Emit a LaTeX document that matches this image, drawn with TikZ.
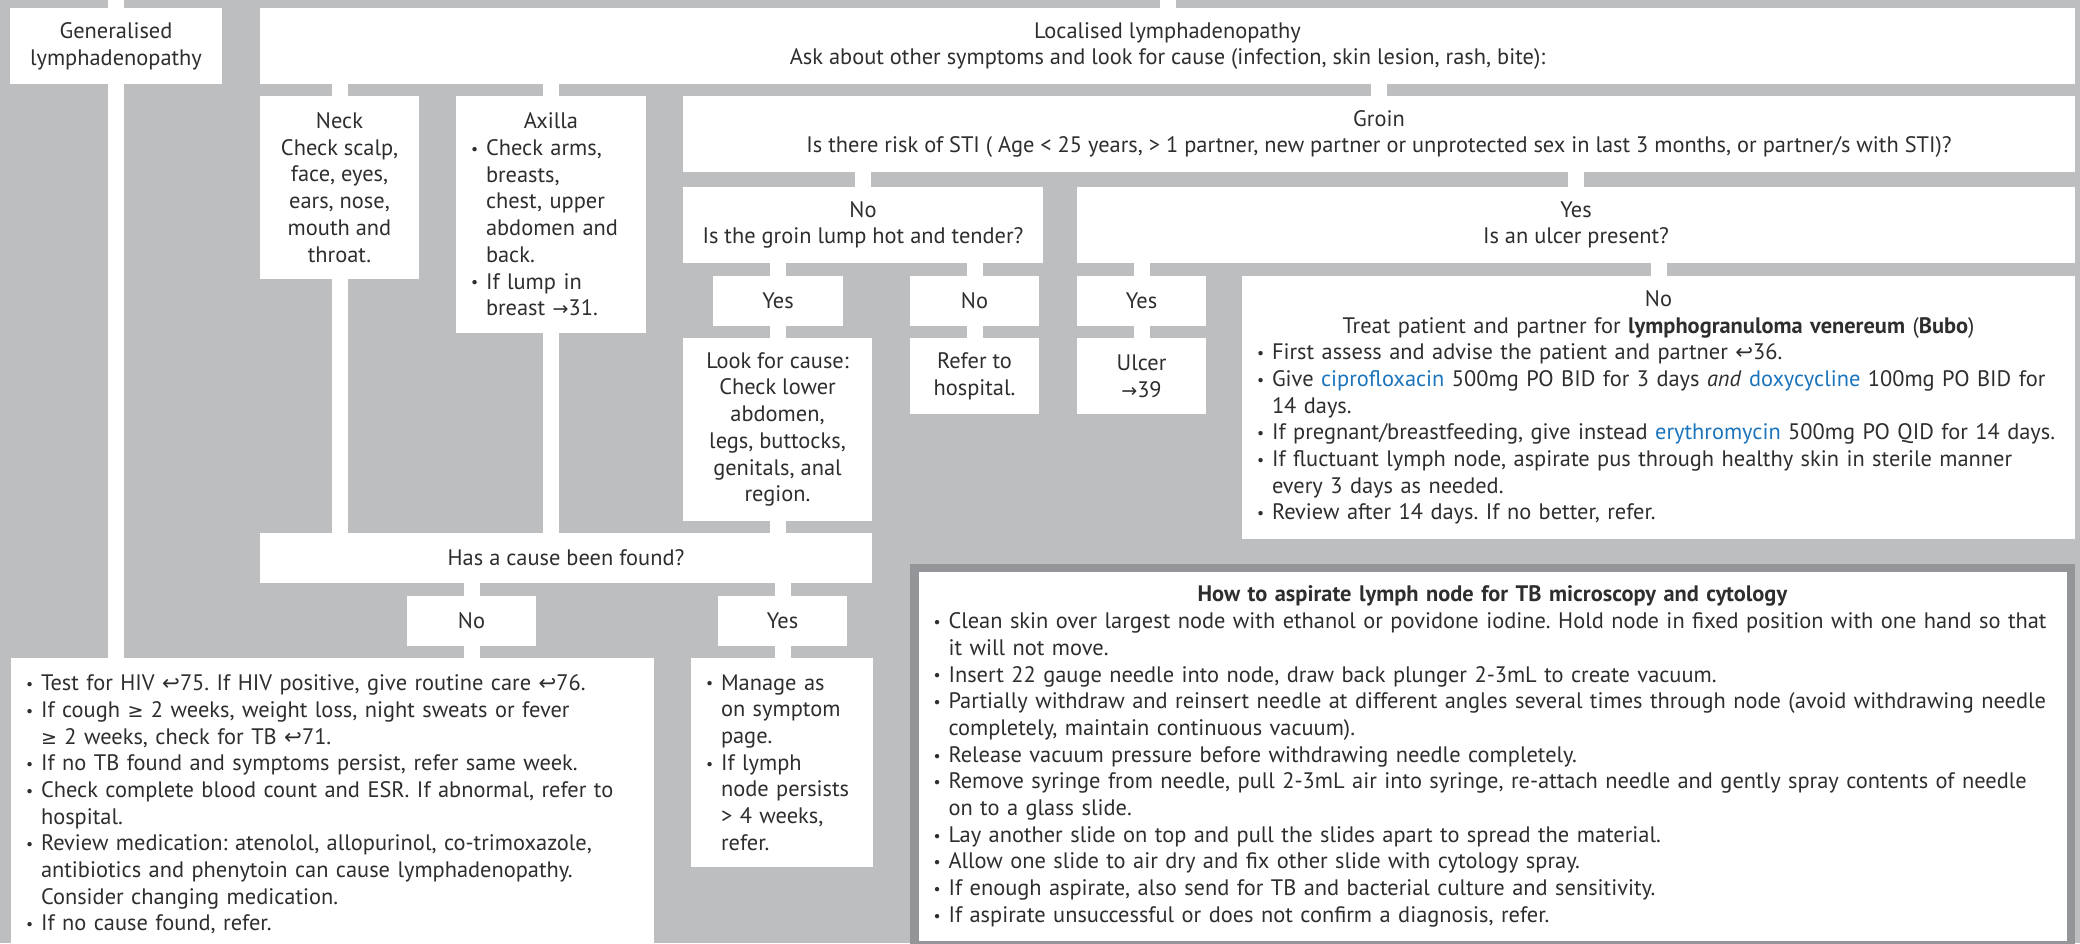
\documentclass[tikz,border=0pt]{standalone}
\usepackage{fontspec}
\setmainfont{PT Sans}
\newfontfamily\symfont{DejaVu Sans}
\definecolor{bg}{HTML}{BCBEC0}
\definecolor{framegray}{HTML}{939598}
\definecolor{txt}{HTML}{2E2E2E}
\definecolor{drug}{HTML}{1C75BC}
\setlength\parindent{0pt}
\frenchspacing
\newcommand\ret{{\symfont\scalebox{0.95}{↩}}}
\newcommand\arr{{\symfont\scalebox{0.85}{→}}}
\newcommand\gee{{\symfont\scalebox{0.85}{≥}}}
\newcommand\drg[1]{\textcolor{drug}{#1}}
\newcommand\bl[1]{\makebox[15pt][l]{\raisebox{0.1ex}{\scalebox{0.7}{\textbullet}}}\mbox{#1}}
\newcommand\cl[1]{\hspace*{15pt}\mbox{#1}}
\newcommand\ctr[1]{\hfill\mbox{#1}\hfill\null}
\begin{document}
\begin{tikzpicture}[x=1pt,y=-1pt,
  every node/.style={font=\fontsize{22.4}{26.7}\selectfont\frenchspacing, text=txt},
  box/.style={fill=white, inner sep=0pt, align=center},
  lbox/.style={fill=white, inner xsep=15pt, inner ysep=0pt, align=left},
  conn/.style={draw=white, line width=16pt, line cap=butt, shorten <=-1pt, shorten >=-1pt}]
\useasboundingbox (0,0) rectangle (2080,943);
\clip (0,0) rectangle (2080,943);
\fill[bg] (0,0) rectangle (2080,943);

% row 1
\node[box, minimum width=212pt, minimum height=76pt] (gen) at (116,46) {Generalised\\lymphadenopathy};
\node[box, minimum width=1815pt, minimum height=76pt] (loc) at (1167.5,46) {Localised lymphadenopathy\\Ask about other symptoms and look for cause (infection, skin lesion, rash, bite):};

% row 2
\node[box, minimum width=159pt, minimum height=183pt] (neck) at (339.5,187.5) {Neck\\Check scalp,\\face, eyes,\\ears, nose,\\mouth and\\throat.};
\node[lbox, text width=160pt, minimum height=237pt] (axilla) at (551,214.5) {\ctr{Axilla}\\
\bl{Check arms,}\\ \cl{breasts,}\\ \cl{chest, upper}\\ \cl{abdomen and}\\ \cl{back.}\\
\bl{If lump in}\\ \cl{breast \arr31.}};
\node[box, minimum width=1392pt, minimum height=76pt] (groin) at (1379,134) {Groin\\Is there risk of STI ( Age < 25 years, > 1 partner, new partner or unprotected sex in last 3 months, or partner/s with STI)?};

% row 3
\node[box, minimum width=360pt, minimum height=76pt] (gno) at (863,225) {No\\Is the groin lump hot and tender?};
\node[box, minimum width=998pt, minimum height=76pt] (gyes) at (1576,225) {Yes\\Is an ulcer present?};

% row 4
\node[box, minimum width=130pt, minimum height=50pt] (hyes) at (778,301) {Yes};
\node[box, minimum width=129pt, minimum height=50pt] (hno) at (974.5,301) {No};
\node[box, minimum width=129pt, minimum height=50pt] (uyes) at (1141.5,301) {Yes};
\node[lbox, text width=803pt, minimum height=263pt] (uno) at (1658.5,407.5) {\ctr{No}\\
\ctr{Treat patient and partner for \textbf{lymphogranuloma venereum} (\textbf{Bubo})}\\
\bl{First assess and advise the patient and partner \ret36.}\\
\bl{Give \drg{ciprofloxacin} 500mg PO BID for 3 days \textit{and} \drg{doxycycline} 100mg PO BID for}\\
\cl{14 days.}\\
\bl{If pregnant/breastfeeding, give instead \drg{erythromycin} 500mg PO QID for 14 days.}\\
\bl{If fluctuant lymph node, aspirate pus through healthy skin in sterile manner}\\
\cl{every 3 days as needed.}\\
\bl{Review after 14 days. If no better, refer.}};

% row 5
\node[box, minimum width=189pt, minimum height=183pt] (look) at (777.5,429.5) {Look for cause:\\Check lower\\abdomen,\\legs, buttocks,\\genitals, anal\\region.};
\node[box, minimum width=129pt, minimum height=76pt] (refer) at (974.5,376) {Refer to\\hospital.};
\node[box, minimum width=129pt, minimum height=76pt] (ulcer) at (1141.5,376) {Ulcer\\\arr39};

% cause
\node[box, minimum width=612pt, minimum height=50pt] (cause) at (566,558) {Has a cause been found?};
\node[box, minimum width=129pt, minimum height=50pt] (cno) at (471.5,621) {No};
\node[box, minimum width=129pt, minimum height=50pt] (cyes) at (782.5,621) {Yes};

\node[lbox, text width=613pt, minimum height=293pt] (test) at (332.5,804.5) {
\bl{Test for HIV \ret75. If HIV positive, give routine care \ret76.}\\
\bl{If cough \gee\ 2 weeks, weight loss, night sweats or fever}\\
\cl{\gee\ 2 weeks, check for TB \ret71.}\\
\bl{If no TB found and symptoms persist, refer same week.}\\
\bl{Check complete blood count and ESR. If abnormal, refer to}\\
\cl{hospital.}\\
\bl{Review medication: atenolol, allopurinol, co-trimoxazole,}\\
\cl{antibiotics and phenytoin can cause lymphadenopathy.}\\
\cl{Consider changing medication.}\\
\bl{If no cause found, refer.}};

\node[lbox, text width=152pt, minimum height=209pt] (manage) at (782,762.5) {
\bl{Manage as}\\ \cl{on symptom}\\ \cl{page.}\\
\bl{If lymph}\\ \cl{node persists}\\ \cl{> 4 weeks,}\\ \cl{refer.}};

\node[lbox, draw=framegray, line width=8.5pt, inner xsep=19.25pt, text width=1118pt, minimum height=377.25pt] (tb) at (1492.5,756.6) {
\ctr{\textbf{How to aspirate lymph node for TB microscopy and cytology}}\\
\bl{Clean skin over largest node with ethanol or povidone iodine. Hold node in fixed position with one hand so that}\\
\cl{it will not move.}\\
\bl{Insert 22 gauge needle into node, draw back plunger 2-3mL to create vacuum.}\\
\bl{Partially withdraw and reinsert needle at different angles several times through node (avoid withdrawing needle}\\
\cl{completely, maintain continuous vacuum).}\\
\bl{Release vacuum pressure before withdrawing needle completely.}\\
\bl{Remove syringe from needle, pull 2-3mL air into syringe, re-attach needle and gently spray contents of needle}\\
\cl{on to a glass slide.}\\
\bl{Lay another slide on top and pull the slides apart to spread the material.}\\
\bl{Allow one slide to air dry and fix other slide with cytology spray.}\\
\bl{If enough aspirate, also send for TB and bacterial culture and sensitivity.}\\
\bl{If aspirate unsuccessful or does not confirm a diagnosis, refer.}};

% connectors
\coordinate (topg) at (116,0);
\coordinate (topl) at (1167.5,0);
\draw[conn] (topg) -- (gen.north);
\draw[conn] (topl) -- (loc.north);
\draw[conn] (gen.south) -- (gen.south |- test.north);
\draw[conn] (neck.north |- loc.south) -- (neck.north);
\draw[conn] (axilla.north |- loc.south) -- (axilla.north);
\draw[conn] (groin.north |- loc.south) -- (groin.north);
\draw[conn] (gno.north |- groin.south) -- (gno.north);
\draw[conn] (gyes.north |- groin.south) -- (gyes.north);
\draw[conn] (hyes.north |- gno.south) -- (hyes.north);
\draw[conn] (hno.north |- gno.south) -- (hno.north);
\draw[conn] (uyes.north |- gyes.south) -- (uyes.north);
\draw[conn] (uno.north |- gyes.south) -- (uno.north);
\draw[conn] (hyes.south) -- (hyes.south |- look.north);
\draw[conn] (hno.south) -- (refer.north);
\draw[conn] (uyes.south) -- (ulcer.north);
\draw[conn] (neck.south) -- (neck.south |- cause.north);
\draw[conn] (axilla.south) -- (axilla.south |- cause.north);
\draw[conn] (look.south) -- (look.south |- cause.north);
\draw[conn] (cno.north |- cause.south) -- (cno.north);
\draw[conn] (cyes.north |- cause.south) -- (cyes.north);
\draw[conn] (cno.south) -- (cno.south |- test.north);
\draw[conn] (cyes.south) -- (cyes.south |- manage.north);
\end{tikzpicture}
\end{document}
